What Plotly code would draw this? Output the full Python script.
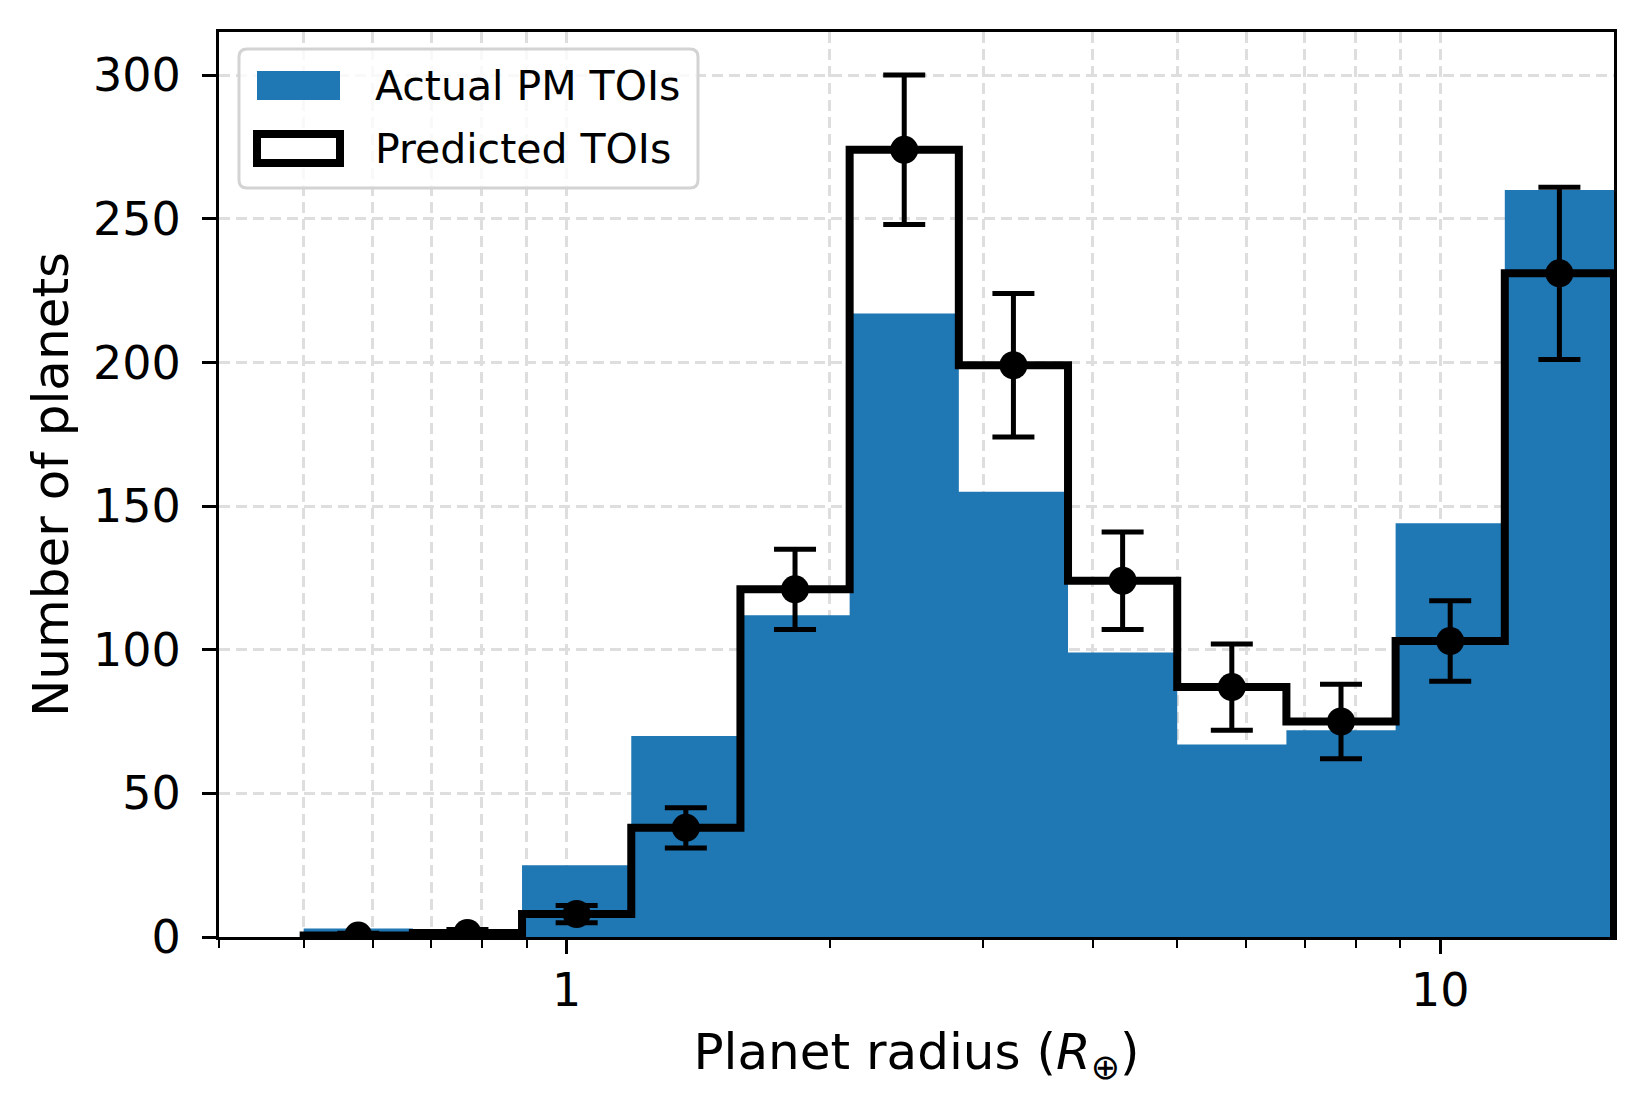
"""
Radius distribution of TESS primary-mission TOIs: actual counts vs. predicted yield.
"""
import numpy as np
import plotly.graph_objects as go

# Histogram bin edges in Earth radii (log-spaced, 12 bins)
bin_edges = [0.5, 0.6668, 0.8891, 1.1858, 1.5811, 2.1085, 2.8117,
             3.7494, 5.0, 6.6676, 8.8914, 11.8568, 15.8114]
actual_counts = [3, 2, 25, 70, 112, 217, 155, 99, 67, 72, 144, 260]
predicted_counts = [0.5, 1.4, 8, 38, 121, 274, 199, 124, 87, 75, 103, 231]
predicted_err = [0.8, 1.2, 3, 7, 14, 26, 25, 17, 15, 13, 14, 30]

x_major_ticks = [1, 10]
x_minor_ticks = [0.4, 0.5, 0.6, 0.7, 0.8, 0.9, 2, 3, 4, 5, 6, 7, 8, 9]
y_ticks = [0, 50, 100, 150, 200, 250, 300]
x_range = [0.4, 15.8114]
y_range = [0, 315]

labels = ["Actual PM TOIs", "Predicted TOIs"]

BLUE = "#1f77b4"
FONT = "DejaVu Sans"
GRID = "#dedede"

# figure geometry in pixels; the page body adds an 8px margin round the plot div
OFF = 8
W, H = 1644 - 2 * OFF, 1110 - 2 * OFF
L, R, T, B = 211, 22, 24, 165
PW, PH = W - L - R, H - T - B


def px(x):
    """Screen x pixel -> paper coordinate."""
    return (x - OFF - L) / PW


def py(y):
    """Screen y pixel -> paper coordinate."""
    return (H - B - (y - OFF)) / PH


def step_outline(edges, counts):
    """Outline of a step histogram, starting and ending on the zero line."""
    xs, ys = [edges[0]], [0]
    for i, c in enumerate(counts):
        xs += [edges[i], edges[i + 1]]
        ys += [c, c]
    xs.append(edges[-1])
    ys.append(0)
    return xs, ys


edges = np.array(bin_edges)
centers = np.sqrt(edges[:-1] * edges[1:])

fig = go.Figure()

# Filled histogram of the actual TOIs
ax_x, ax_y = step_outline(bin_edges, actual_counts)
fig.add_trace(go.Scatter(x=ax_x, y=ax_y, mode="lines", fill="toself",
                         fillcolor=BLUE, line=dict(width=0),
                         name=labels[0], showlegend=False, hoverinfo="skip"))

# Step outline of the predicted TOIs
pr_x, pr_y = step_outline(bin_edges, predicted_counts)
fig.add_trace(go.Scatter(x=pr_x, y=pr_y, mode="lines",
                         line=dict(color="black", width=8),
                         name=labels[1], showlegend=False, hoverinfo="skip"))

# Mean predicted counts with their spread
fig.add_trace(go.Scatter(x=centers, y=predicted_counts, mode="markers",
                         marker=dict(color="black", size=28),
                         error_y=dict(type="data", array=predicted_err,
                                      color="black", thickness=5, width=21),
                         showlegend=False))

axis_common = dict(
    showline=True, linecolor="black", linewidth=3, mirror=True,
    ticks="outside", tickcolor="black", tickwidth=3, ticklen=14,
    showgrid=True, gridcolor=GRID, gridwidth=3, griddash="11px,6px",
    zeroline=False, tickfont=dict(family=FONT, size=46, color="black"),
)

fig.update_xaxes(
    type="log", range=np.log10(x_range).tolist(),
    tickmode="array", tickvals=x_major_ticks, ticktext=[str(v) for v in x_major_ticks],
    minor=dict(tickmode="array", tickvals=x_minor_ticks, ticks="outside",
               ticklen=8, tickwidth=2, tickcolor="black",
               showgrid=True, gridcolor=GRID, gridwidth=3, griddash="11px,6px"),
    ticklabelstandoff=-3,
    title=dict(text="Planet radius (<i>R</i><sub>⊕</sub>)",
               font=dict(family=FONT, size=50, color="black"), standoff=18),
    **axis_common,
)
fig.update_yaxes(
    range=y_range, tickmode="array", tickvals=y_ticks,
    ticklabelstandoff=12,
    title=dict(text="Number of planets",
               font=dict(family=FONT, size=50, color="black"), standoff=9),
    **axis_common,
)

# Legend drawn by hand so the patches match the reference size
x0, x1, y0, y1 = px(239), px(698), py(188), py(49)
rx, ry = 8 / PW, 8 / PH
box = (f"M {x0 + rx},{y1} L {x1 - rx},{y1} Q {x1},{y1} {x1},{y1 - ry} "
       f"L {x1},{y0 + ry} Q {x1},{y0} {x1 - rx},{y0} L {x0 + rx},{y0} "
       f"Q {x0},{y0} {x0},{y0 + ry} L {x0},{y1 - ry} Q {x0},{y1} {x0 + rx},{y1} Z")
fig.add_shape(type="path", path=box, xref="paper", yref="paper",
              fillcolor="rgba(255,255,255,0.8)", line=dict(color="#d3d3d3", width=3))
fig.add_shape(type="rect", xref="paper", yref="paper",
              x0=px(257), x1=px(340), y0=py(100), y1=py(71),
              fillcolor=BLUE, line=dict(width=0))
fig.add_shape(type="rect", xref="paper", yref="paper",
              x0=px(257), x1=px(340), y0=py(163), y1=py(134),
              fillcolor="white", line=dict(color="black", width=8))
for text, ypix in zip(labels, [86, 149]):
    fig.add_annotation(text=text, xref="paper", yref="paper", x=px(373), y=py(ypix),
                       xanchor="left", yanchor="middle", showarrow=False,
                       font=dict(family=FONT, size=41, color="black"))

fig.update_layout(
    width=W, height=H,
    margin=dict(l=L, r=R, t=T, b=B, autoexpand=False),
    plot_bgcolor="white", paper_bgcolor="white",
    font=dict(family=FONT, color="black"),
    showlegend=False,
)

fig.write_html("out.html")
